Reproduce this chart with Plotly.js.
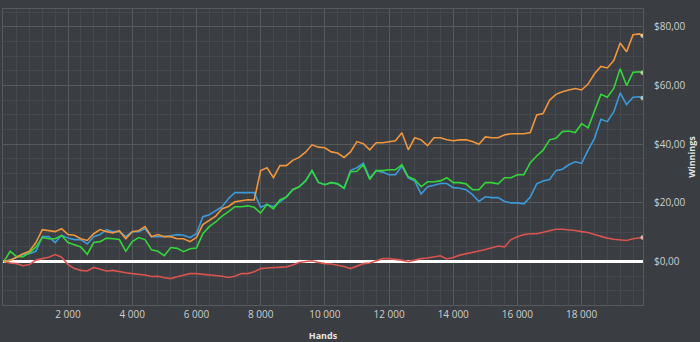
<!DOCTYPE html>
<html>
<head>
<meta charset="utf-8">
<script src="https://cdn.plot.ly/plotly-3.0.1.min.js"></script>
<style>html,body{margin:0;padding:0;background:#3a3d41;}#chart{width:700px;height:342px;}</style>
</head>
<body>
<div id="chart"></div>
<script>
// Hands sampled every 200, last at 19 900
const hands = [];
for (let i = 0; i <= 99; i++) hands.push(i * 200);
hands.push(19900);

const orangeSeries = [0,0.5,1.5,2.7,3.5,6.5,10.9,10.5,10.2,11.2,
9.2,9.0,7.8,7.2,9.5,10.9,10.2,9.8,10.5,7.8,
10.2,10.5,11.9,8.5,9.2,8.5,8.5,7.8,7.8,6.8,
8.2,12.6,14.0,15.5,18.0,18.8,20.4,20.8,21.1,21.0,
31.0,32.0,28.6,32.7,32.7,34.5,35.5,37.3,39.8,39.0,
38.8,37.4,37.0,35.5,37.4,40.9,40.2,38.1,40.5,40.5,
40.9,41.2,43.9,38.1,42.2,41.5,39.5,42.2,42.2,41.5,
41.2,41.5,41.5,40.9,40.0,42.5,42.2,42.2,43.2,43.6,
43.6,43.6,44.0,50.0,50.5,55.0,57.0,57.9,58.5,59.0,
58.5,60.5,64.0,66.5,66.0,68.5,74.5,71.5,77.3,77.6,77.0];

const blueSeries = [0,0.5,1.5,2.4,2.7,3.5,8.5,8.5,6.5,9.0,
8.0,7.5,7.5,6.0,8.5,9.2,10.9,10.2,10.2,8.5,
10.2,10.2,11.2,8.5,8.5,8.5,8.8,9.2,9.0,8.2,
9.5,15.3,16.0,17.5,18.7,21.5,23.5,23.5,23.5,23.5,
18.5,19.5,18.7,20.5,22.0,24.5,25.5,27.5,31.0,27.0,
26.2,27.0,26.5,25.0,31.0,32.0,33.5,28.5,31.0,30.5,
29.6,29.6,32.5,28.5,27.5,23.0,25.5,26.0,26.6,26.6,
25.2,25.0,24.5,22.8,20.5,22.1,21.8,21.8,20.5,20.0,
20.0,19.7,22.0,26.5,27.5,28.0,31.0,31.5,33.0,34.0,
33.5,38.0,42.0,48.5,47.7,51.0,57.5,53.5,56.0,56.2,55.8];

const greenSeries = [0,3.5,1.7,1.7,3.0,5.0,8.2,7.8,7.8,8.9,
6.5,5.8,5.0,2.5,6.5,6.8,8.0,7.8,7.5,3.5,
6.8,8.2,7.5,4.0,3.5,2.0,4.8,4.5,3.4,4.4,
4.6,9.5,11.9,13.5,15.5,17.0,18.7,18.7,19.0,18.5,
16.5,19.5,18.0,21.0,22.0,24.5,25.5,27.5,31.0,27.0,
26.2,26.9,26.5,25.0,30.6,30.8,33.0,28.0,31.0,31.0,
31.3,31.3,33.0,28.9,28.0,25.5,27.2,27.2,27.5,28.6,
26.9,26.9,26.5,24.5,24.5,26.9,26.9,26.5,28.6,28.6,
29.6,29.6,33.7,36.0,38.0,41.5,42.0,44.3,44.5,44.0,
47.0,45.6,51.0,57.0,56.0,59.0,65.7,60.0,64.5,64.7,64.4];

const redSeries = [0,-0.5,-0.7,-1.4,-1.0,0.5,1.0,1.5,2.4,1.5,
-1.0,-2.4,-3.0,-3.2,-2.0,-2.5,-3.2,-3.0,-3.5,-3.8,
-4.1,-4.3,-4.6,-5.1,-5.0,-5.5,-5.8,-5.2,-4.6,-4.1,
-4.1,-4.3,-4.6,-4.8,-5.0,-5.4,-5.0,-4.1,-4.1,-3.5,
-2.4,-2.2,-2.0,-2.0,-1.8,-1.2,-0.3,0.0,0.3,-0.3,
-0.7,-0.8,-1.2,-1.7,-2.4,-1.5,-0.7,-0.5,0.3,1.0,
1.0,0.8,0.5,0.0,0.5,1.0,1.2,1.6,2.0,0.9,
1.4,2.2,2.6,3.0,3.6,4.1,4.8,5.3,5.0,7.5,
8.5,9.2,9.5,9.5,10.0,10.6,11.0,11.0,10.9,10.6,
10.2,9.9,9.2,8.5,8.0,7.6,7.4,7.2,7.8,8.2,8.2];

const xTickVals = [2000,4000,6000,8000,10000,12000,14000,16000,18000];
const xTickText = ['2 000','4 000','6 000','8 000','10 000','12 000','14 000','16 000','18 000'];
const yTickVals = [0,20,40,60,80];
const yTickText = ['$0,00','$20,00','$40,00','$60,00','$80,00'];

function endMarker(arr){ return arr.map((v,i)=> i===arr.length-1 ? 4.5 : 0); }

function trace(y, color){
  return {x: hands, y: y, type:'scatter', mode:'lines+markers',
    line:{color:color, width:1.6},
    marker:{size:endMarker(y), color:'#f3e6cf', line:{width:0}},
    hoverinfo:'skip', showlegend:false};
}

const data = [
  trace(redSeries, '#d9534f'),
  trace(blueSeries, '#3b9ad9'),
  trace(greenSeries, '#33d63a'),
  trace(orangeSeries, '#f0963c')
];

const layout = {
  width:700, height:342,
  paper_bgcolor:'#3a3d41', plot_bgcolor:'#3a3d41',
  margin:{l:3, r:57, t:9, b:37},
  font:{family:'Open Sans, sans-serif', color:'#cfcfcf', size:10},
  showlegend:false,
  xaxis:{
    range:[-25,19911], tickvals:xTickVals, ticktext:xTickText,
    showgrid:true, gridcolor:'#56595d', gridwidth:1,
    minor:{dtick:400, showgrid:true, gridcolor:'#45484c', gridwidth:1},
    zeroline:false, showline:true, linecolor:'#56595d', mirror:true,
    ticks:'', tickfont:{size:10, color:'#cfcfcf'},
    title:{text:'<b>Hands</b>', font:{size:9, color:'#e6e6e6'}, standoff:12}
  },
  yaxis:{
    side:'right', range:[-14.8,86.1], tickvals:yTickVals, ticktext:yTickText,
    showgrid:true, gridcolor:'#56595d', gridwidth:1,
    minor:{dtick:5, showgrid:true, gridcolor:'#45484c', gridwidth:1},
    zeroline:true, zerolinecolor:'#ffffff', zerolinewidth:2.5,
    showline:true, linecolor:'#56595d', mirror:true,
    ticks:'', ticklabelstandoff:8, tickfont:{size:10, color:'#cfcfcf'},
    title:{text:'<b>Winnings</b>', font:{size:9, color:'#e6e6e6'}, standoff:2}
  }
};

Plotly.newPlot('chart', data, layout, {displayModeBar:false, staticPlot:true});
</script>
</body>
</html>
